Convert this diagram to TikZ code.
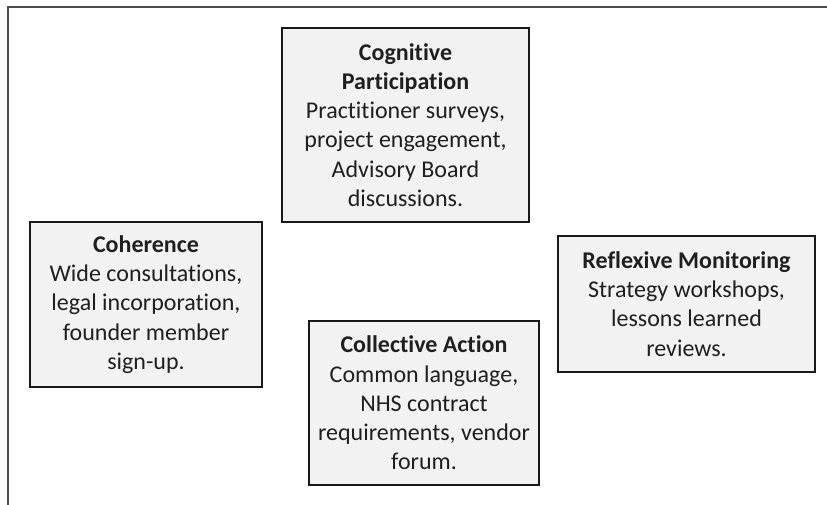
\documentclass[tikz,border=0pt]{standalone}
\usepackage{fontspec}
\setmainfont{Carlito}[Ligatures=NoCommon]
\begin{document}
\begin{tikzpicture}[x=1pt,y=-1pt,
  stagebox/.style={draw=black!90,line width=1.4pt,fill=black!5,rectangle,
    inner sep=0pt,align=center,text=black!88,
    font=\fontsize{24}{29.3}\selectfont},
  framebox/.style={draw=black!70,line width=1.6pt}]
\useasboundingbox (0,0) rectangle (827,504);
\begin{scope}
  \clip (0,0) rectangle (827,504);
  \draw[framebox] (8,7) rectangle (860,540);
\end{scope}
\node[stagebox,minimum width=247pt,minimum height=194pt] (cog) at (405.5,125)
  {\textbf{Cognitive}\\\textbf{Participation}\\Practitioner surveys,\\project engagement,\\Advisory Board\\discussions.};
\node[stagebox,minimum width=232pt,minimum height=165pt] (coh) at (146,304.5)
  {\textbf{Coherence}\\Wide consultations,\\legal incorporation,\\founder member\\sign-up.};
\node[stagebox,minimum width=257pt,minimum height=136pt] (ref) at (686.5,304)
  {\textbf{Reflexive Monitoring}\\Strategy workshops,\\lessons learned\\reviews.};
\node[stagebox,minimum width=230pt,minimum height=164pt] (col) at (424,403)
  {\textbf{Collective Action}\\Common language,\\NHS contract\\requirements, vendor\\forum.};
\end{tikzpicture}
\end{document}
